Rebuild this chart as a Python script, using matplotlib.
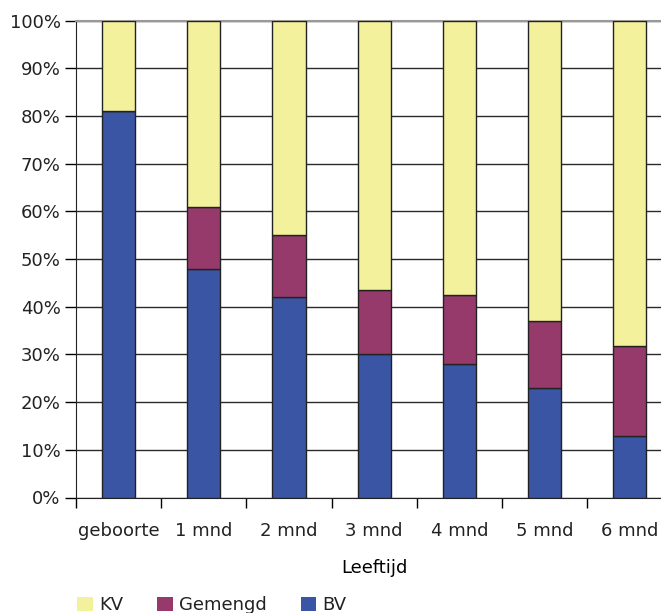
import matplotlib.pyplot as plt
from matplotlib.patches import Patch
from matplotlib.ticker import FixedLocator, PercentFormatter

# leeftijden en voedingswijze (aandeel in %)
labels = ['geboorte', '1 mnd', '2 mnd', '3 mnd', '4 mnd', '5 mnd', '6 mnd']
bv = [81, 48, 42, 30, 28, 23, 13]
gemengd = [0, 13, 13, 13.5, 14.5, 14, 18.8]
kv = [100 - b - g for b, g in zip(bv, gemengd)]

c_bv = '#3A55A3'
c_gem = '#963A6C'
c_kv = '#F3F19B'

plt.rcParams['font.family'] = 'DejaVu Sans'
plt.rcParams['font.size'] = 13
plt.rcParams['text.color'] = '#222222'
plt.rcParams['xtick.labelcolor'] = '#222222'
plt.rcParams['ytick.labelcolor'] = '#222222'

fig = plt.figure(figsize=(6.61, 6.13), dpi=100)
ax = fig.add_axes([76 / 661, (613 - 497.5) / 613, 596.4 / 661, 476.8 / 613])

x = list(range(len(labels)))
w = 0.39
ec = '#222222'
ax.bar(x, bv, width=w, color=c_bv, edgecolor=ec, linewidth=1, zorder=3)
ax.bar(x, gemengd, width=w, bottom=bv, color=c_gem, edgecolor=ec, linewidth=1, zorder=3)
bottom2 = [b + g for b, g in zip(bv, gemengd)]
ax.bar(x, kv, width=w, bottom=bottom2, color=c_kv, edgecolor=ec, linewidth=1, zorder=3)

ax.set_xlim(-0.5, len(labels) - 0.5)
ax.set_ylim(0, 100)
ax.set_yticks(range(0, 101, 10))
ax.yaxis.set_major_formatter(PercentFormatter(decimals=0))
ax.yaxis.grid(True, color='#2a2a2a', linewidth=1)
ax.set_axisbelow(True)

# tickstreepjes tussen de categorieen, labels in het midden
ax.xaxis.set_major_locator(FixedLocator([i - 0.5 for i in range(len(labels) + 1)]))
ax.xaxis.set_minor_locator(FixedLocator(x))
ax.set_xticklabels([''] * (len(labels) + 1))
ax.set_xticklabels(labels, minor=True)
ax.tick_params(axis='x', which='major', length=7, width=1, direction='out')
ax.tick_params(axis='x', which='minor', length=0, pad=18)
ax.tick_params(axis='y', length=8, width=1, pad=3)
ax.set_xlabel('Leeftijd', labelpad=13)

ax.spines['right'].set_visible(False)
ax.spines['top'].set_color('#999999')
ax.spines['top'].set_linewidth(1.5)
ax.spines['left'].set_color('#222222')
ax.spines['bottom'].set_color('#222222')

handles = [Patch(facecolor=c_kv, label='KV'),
           Patch(facecolor=c_gem, label='Gemengd'),
           Patch(facecolor=c_bv, label='BV')]
fig.legend(handles=handles, loc='lower left', bbox_to_anchor=(70 / 661, -0.014),
           ncol=3, frameon=False, handlelength=0.85, handleheight=0.85,
           handletextpad=0.35, columnspacing=1.9, borderaxespad=0)

fig.savefig('out.png', dpi=100)
